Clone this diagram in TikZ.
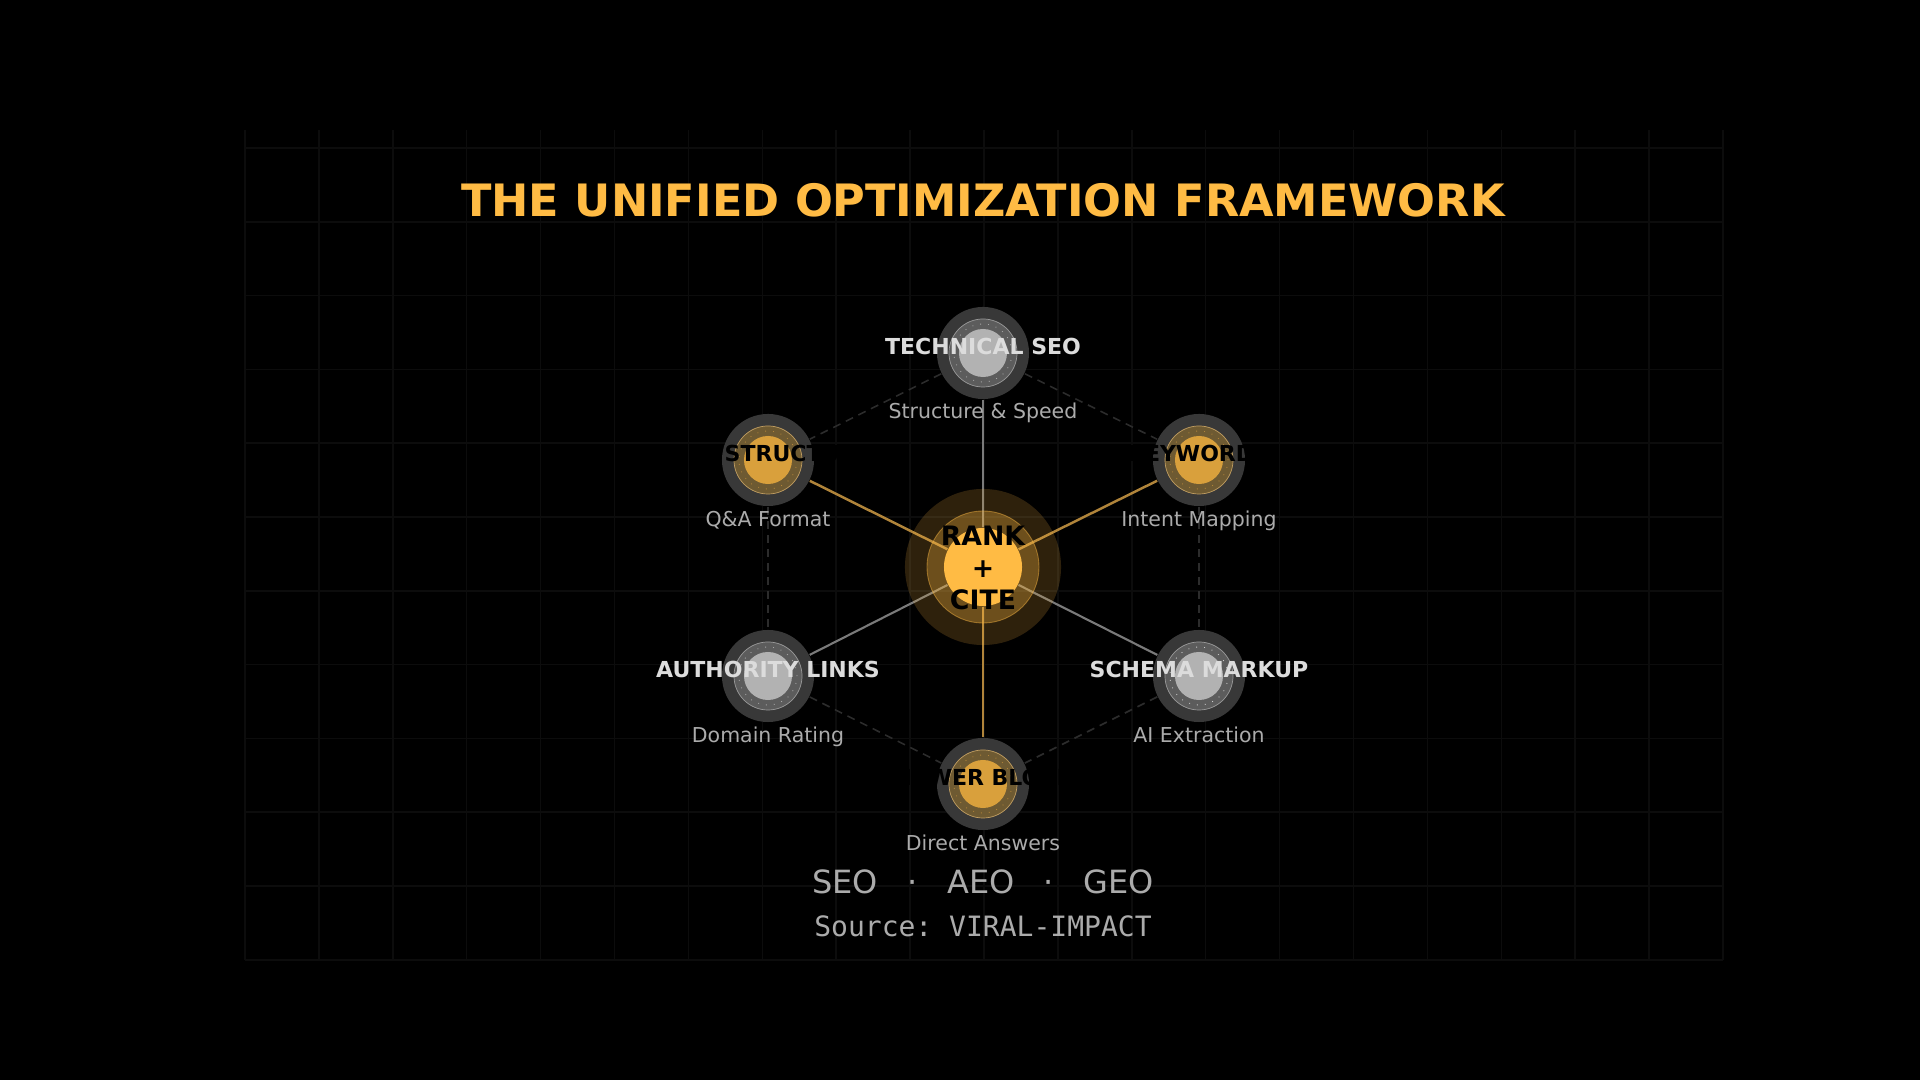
\documentclass[tikz,border=0pt]{standalone}
\usepackage{fontspec}
\setmainfont{DejaVu Sans}
\setmonofont{DejaVu Sans Mono}
\usetikzlibrary{backgrounds}
\definecolor{gold}{HTML}{FFBB44}
\definecolor{diskgray}{HTML}{383838}
\definecolor{ringgrayc}{HTML}{5C5C5C}
\definecolor{ringgoldc}{HTML}{6E5A32}
\definecolor{innergrayc}{HTML}{B2B2B2}
\definecolor{innergoldc}{HTML}{D9A03C}
\definecolor{lblc}{HTML}{DCDCDC}
\definecolor{subc}{HTML}{ABABAB}
\definecolor{gridc}{HTML}{0C0C0C}
\definecolor{dashc}{HTML}{2C2C2C}
\definecolor{linkgrayc}{HTML}{7A7A7A}
\definecolor{linkgoldc}{HTML}{B0843A}
\tikzset{
  gridln/.style={draw=gridc, line width=0.45pt},
  dashedge/.style={draw=dashc, line width=0.45pt, dash pattern=on 2.3pt off 1.7pt},
  linkgray/.style={draw=linkgrayc, line width=0.6pt},
  linkgold/.style={draw=linkgoldc, line width=0.7pt},
  odisk/.style={circle, fill=diskgray, minimum size=0.92cm, inner sep=0pt},
  ringgray/.style={circle, fill=ringgrayc, draw=gray!80, line width=0.2pt, minimum size=0.68cm, inner sep=0pt},
  ringgold/.style={circle, fill=ringgoldc, draw=linkgoldc!80, line width=0.2pt, minimum size=0.68cm, inner sep=0pt},
  dotring/.style={circle, draw=#1, line width=0.25pt, dotted, minimum size=0.58cm, inner sep=0pt},
  coregray/.style={circle, fill=innergrayc, minimum size=0.48cm, inner sep=0pt},
  coregold/.style={circle, fill=innergoldc, minimum size=0.48cm, inner sep=0pt},
  lbllight/.style={anchor=base, text=lblc, font=\fontsize{6.26}{7.5}\selectfont\bfseries, inner sep=0pt},
  lbldark/.style={anchor=base, text=black, font=\fontsize{6.26}{7.5}\selectfont\bfseries, inner sep=0pt},
  sublbl/.style={anchor=base, text=subc, font=\fontsize{5.83}{7}\selectfont, inner sep=0pt},
}
\begin{document}
\begin{tikzpicture}[x=0.01cm, y=-0.01cm]
\useasboundingbox (0,0) rectangle (1920,1080);

% title
\node[anchor=base, text=gold, font=\fontsize{12.68}{15}\selectfont\bfseries, inner sep=0pt] (title) at (983,217) {THE UNIFIED OPTIMIZATION FRAMEWORK};

% center node
\node[circle, fill=gold, fill opacity=0.18, minimum size=1.56cm, inner sep=0pt] (coreglow) at (983,567) {};
\node[circle, fill=gold, fill opacity=0.30, draw=gold, draw opacity=0.45, line width=0.25pt, minimum size=1.12cm, inner sep=0pt] (corering) at (983,567) {};
\node[circle, fill=gold, minimum size=0.78cm, inner sep=0pt] (core) at (983,567) {};
\node[align=center, text=black, font=\fontsize{7.6}{9.2}\selectfont\bfseries, inner sep=0pt] (coretext) at (983,568) {RANK\\+\\CITE};

% outer nodes
\node[odisk] (tech) at (983,353) {};
\node[ringgray] (techring) at (tech) {};
\node[dotring=gray!70] at (tech) {};
\node[coregray] (techcore) at (tech) {};

\node[odisk] (struct) at (768,460) {};
\node[ringgold] (structring) at (struct) {};
\node[dotring=linkgoldc] at (struct) {};
\node[coregold] (structcore) at (struct) {};

\node[odisk] (kw) at (1199,460) {};
\node[ringgold] (kwring) at (kw) {};
\node[dotring=linkgoldc] at (kw) {};
\node[coregold] (kwcore) at (kw) {};

\node[odisk] (auth) at (768,676) {};
\node[ringgray] (authring) at (auth) {};
\node[dotring=gray!70] at (auth) {};
\node[coregray] (authcore) at (auth) {};

\node[odisk] (schema) at (1199,676) {};
\node[ringgray] (schemaring) at (schema) {};
\node[dotring=gray!40] at (schema) {};
\node[coregray] (schemacore) at (schema) {};

\node[odisk] (ans) at (983,784) {};
\node[ringgold] (ansring) at (ans) {};
\node[dotring=linkgoldc] at (ans) {};
\node[coregold] (anscore) at (ans) {};

% labels
\node[lbllight] (techlbl) at (983,354.5) {TECHNICAL SEO};
\node[sublbl] (techsub) at (983,419) {Structure \& Speed};
\node[lbldark, anchor=base west] (structlbl) at (724,461.5) {STRUCTURE};
\node[sublbl] (structsub) at (768,527) {Q\&A Format};
\node[lbldark] (kwlbl) at (1199,461.5) {KEYWORDS};
\node[sublbl] (kwsub) at (1199,527) {Intent Mapping};
\node[lbllight] (authlbl) at (768,677.5) {AUTHORITY LINKS};
\node[sublbl] (authsub) at (768,743) {Domain Rating};
\node[lbllight] (schemalbl) at (1199,677.5) {SCHEMA MARKUP};
\node[sublbl] (schemasub) at (1199,743) {AI Extraction};
\node[lbldark] (anslbl) at (983,785.5) {ANSWER BLOCKS};
\node[sublbl] (anssub) at (983,851) {Direct Answers};

% footer
\node[anchor=base, text=subc, font=\fontsize{9.1}{11}\selectfont, inner sep=0pt] (tags) at (983,894) {SEO\hspace{8.4pt}·\hspace{8.4pt}AEO\hspace{8.4pt}·\hspace{8.4pt}GEO};
\node[anchor=base, text=subc, font=\fontsize{7.97}{10}\ttfamily, inner sep=0pt] (source) at (983,937) {Source: VIRAL-IMPACT};

\begin{scope}[on background layer]
  \fill[black] (0,0) rectangle (1920,1080);
  \foreach \i in {0,...,20} \draw[gridln] ({245+73.9*\i},130) -- ({245+73.9*\i},960);
  \foreach \j in {0,...,11} \draw[gridln] (245,{148+73.8*\j}) -- (1723,{148+73.8*\j});
  % hexagon dashed edges
  \draw[dashedge] (tech) -- (struct);
  \draw[dashedge] (tech) -- (kw);
  \draw[dashedge] (struct) -- (auth);
  \draw[dashedge] (kw) -- (schema);
  \draw[dashedge] (auth) -- (ans);
  \draw[dashedge] (schema) -- (ans);
  % spokes
  \draw[linkgray] (core) -- (tech);
  \draw[linkgold] (core) -- (struct);
  \draw[linkgold] (core) -- (kw);
  \draw[linkgray] (core) -- (auth);
  \draw[linkgray] (core) -- (schema);
  \draw[linkgold] (core) -- (ans);
\end{scope}
\end{tikzpicture}
\end{document}
